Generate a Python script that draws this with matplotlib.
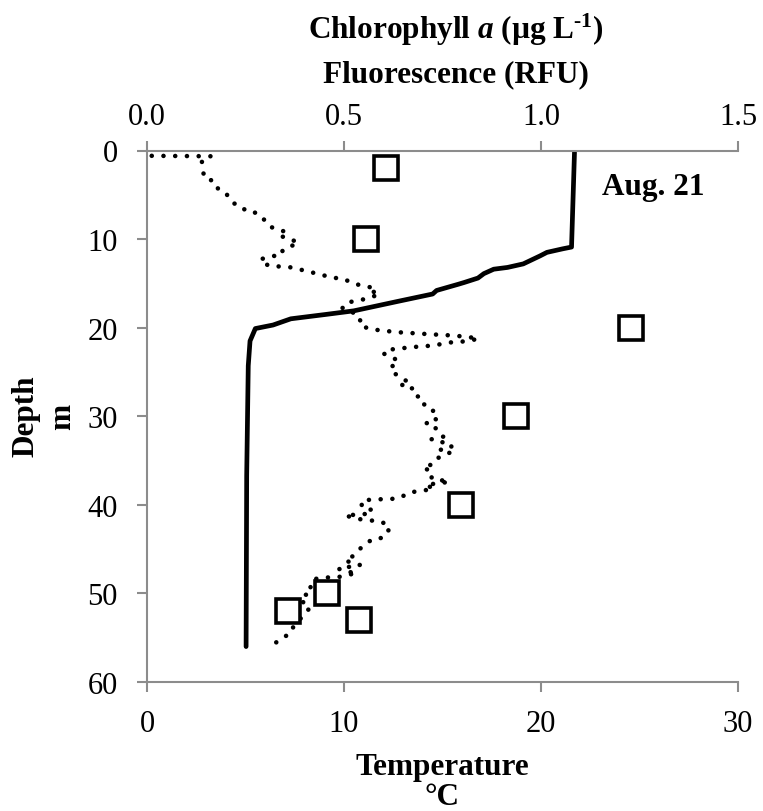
import matplotlib
matplotlib.use('Agg')
import matplotlib.pyplot as plt

# temperature profile (solid line, bottom axis)
temp_depth = [0.2, 10.9, 11.1, 11.5, 11.9, 12.8, 13.2, 13.4, 13.9, 14.4, 14.9, 15.1,
              15.8, 16.2, 17.0, 18.1, 18.5, 19.0, 19.7, 20.1, 21.5, 24.3, 36.7, 56.0]
temp_c = [21.7, 21.55, 21.1, 20.3, 19.95, 19.1, 18.3, 17.6, 17.1, 16.8, 16.1, 15.8,
          14.7, 14.5, 12.8, 10.5, 9.1, 7.3, 6.4, 5.5, 5.23, 5.14, 5.06, 5.03]

# fluorescence profile (dotted line, top axis)
fluor_depth = [0.6, 0.65, 1.15, 3.1, 3.5, 4.4, 4.8, 5.9, 6.4, 6.8, 7.05, 7.5, 8.4, 8.9,
               9.2, 9.7, 10.0, 10.55, 10.9, 11.3, 11.8, 11.95, 12.3, 13.0, 13.2, 13.8,
               14.35, 14.5, 15.0, 15.3, 15.5, 15.8, 16.2, 16.7, 16.95, 17.2, 17.8, 18.3,
               18.8, 19.8, 20.2, 20.5, 20.75, 20.9, 21.2, 21.5, 21.7, 22.0, 22.2, 22.5,
               22.9, 23.2, 23.7, 24.6, 25.0, 25.7, 26.2, 26.5, 26.9, 27.6, 28.0, 28.6,
               29.1, 29.5, 29.9, 30.5, 30.8, 31.5, 32.3, 32.6, 32.9, 33.0, 33.5, 33.8,
               34.1, 34.7, 35.3, 35.8, 36.3, 37.0, 37.4, 37.6, 37.7, 38.2, 38.4, 38.6,
               38.9, 39.3, 39.4, 39.5, 40.3, 40.6, 41.0, 41.2, 41.6, 41.9, 42.5, 43.3,
               43.7, 43.9, 44.4, 45.1, 45.7, 46.3, 46.8, 47.2, 47.5, 47.7, 48.2, 48.2,
               48.4, 49.3, 50.1, 50.2, 51.1, 51.6, 53.8, 54.4, 55.1, 55.8]
fluor_rfu = [0.012, 0.162, 0.139, 0.145, 0.173, 0.181, 0.200, 0.217, 0.244, 0.249, 0.278,
             0.293, 0.305, 0.327, 0.355, 0.342, 0.367, 0.384, 0.355, 0.344, 0.342, 0.314,
             0.287, 0.308, 0.367, 0.422, 0.471, 0.500, 0.522, 0.551, 0.574, 0.566, 0.590,
             0.562, 0.532, 0.505, 0.496, 0.523, 0.541, 0.541, 0.573, 0.632, 0.721, 0.782,
             0.841, 0.820, 0.761, 0.731, 0.672, 0.612, 0.600, 0.612, 0.638, 0.617, 0.623,
             0.646, 0.666, 0.646, 0.676, 0.678, 0.701, 0.703, 0.708, 0.733, 0.727, 0.735,
             0.708, 0.739, 0.752, 0.722, 0.739, 0.770, 0.773, 0.744, 0.769, 0.739, 0.731,
             0.701, 0.725, 0.722, 0.767, 0.737, 0.708, 0.727, 0.699, 0.666, 0.655, 0.635,
             0.576, 0.545, 0.545, 0.573, 0.564, 0.503, 0.536, 0.595, 0.617, 0.608, 0.601,
             0.570, 0.558, 0.536, 0.526, 0.503, 0.541, 0.486, 0.500, 0.532, 0.481, 0.452,
             0.421, 0.415, 0.415, 0.392, 0.397, 0.414, 0.371, 0.367, 0.342, 0.319]

# extracted chlorophyll a (squares, top axis)
chl_depth = [2, 10, 20, 30, 40, 50, 52, 53]
chl_a = [0.606, 0.555, 1.228, 0.936, 0.797, 0.458, 0.359, 0.539]

temp_ticks = [0, 10, 20, 30]
depth_ticks = [0, 10, 20, 30, 40, 50, 60]
chl_ticks = [0.0, 0.5, 1.0, 1.5]

plt.rcParams['font.family'] = ['Liberation Serif', 'DejaVu Serif']
plt.rcParams['mathtext.fontset'] = 'custom'
plt.rcParams['mathtext.rm'] = 'Liberation Serif:bold'
plt.rcParams['mathtext.it'] = 'Liberation Serif:italic:bold'
plt.rcParams['mathtext.bf'] = 'Liberation Serif:bold'

gray = '#8c8c8c'
W, H = 763, 812
fig = plt.figure(figsize=(W / 100, H / 100), dpi=100)
ax = fig.add_axes([147 / W, 1 - 683 / H, 591 / W, 531.5 / H])
ax2 = ax.twiny()

ax.plot(temp_c, temp_depth, color='black', lw=3.4, solid_capstyle='round', zorder=3)
ax.set_xlim(0, 30)
ax.set_ylim(60, 0)
ax.set_xticks(temp_ticks)
ax.set_yticks(depth_ticks)

ax2.plot(fluor_rfu, fluor_depth, color='black', lw=3.3,
         linestyle=(0, (0.01, 2.55)), dash_capstyle='round', zorder=3)
ax2.plot(chl_a, chl_depth, linestyle='none', marker='s', ms=17.5, mew=2.6,
         mec='black', mfc='white', zorder=4)
ax2.set_xlim(0, 1.5)
ax2.set_ylim(60, 0)
ax2.set_xticks(chl_ticks)
ax2.set_xticklabels(['%.1f' % v for v in chl_ticks])

for s in ['top', 'right']:
    ax.spines[s].set_visible(False)
for s in ['left', 'bottom']:
    ax.spines[s].set_color(gray)
    ax.spines[s].set_linewidth(1.5)
for s in ['bottom', 'left', 'right']:
    ax2.spines[s].set_visible(False)
ax2.spines['top'].set_color(gray)
ax2.spines['top'].set_linewidth(1.5)

ax.tick_params(direction='out', length=7.5, width=1.5, color=gray, labelsize=22)
ax.tick_params(axis='y', pad=13.5)
ax.tick_params(axis='x', pad=12)
ax2.tick_params(axis='x', direction='out', length=7.5, width=1.5, color=gray,
                labelsize=22, pad=6.5)

ax.text(23.1, 4.9, 'Aug. 21', fontsize=22.5, fontweight='bold',
        ha='left', va='baseline')

bold = dict(fontsize=22.5, fontweight='bold', ha='center')
fig.text(442 / W, 1 - 775 / H, 'Temperature', va='baseline', **bold)
fig.text(442 / W, 1 - 805 / H, '°C', va='baseline', **bold)
fig.text(456 / W, 1 - 39.3 / H, r'Chlorophyll $\mathit{a}$ (µg L$^{\text{-1}}$)',
         va='baseline', **bold)
fig.text(456 / W, 1 - 82.7 / H, 'Fluorescence (RFU)', va='baseline', **bold)
fig.text(26 / W, 1 - 416.5 / H, 'Depth', va='center', rotation=90, **bold)
fig.text(62.5 / W, 1 - 416.5 / H, 'm', va='center', rotation=90, **bold)

fig.savefig('out.png', dpi=100)
